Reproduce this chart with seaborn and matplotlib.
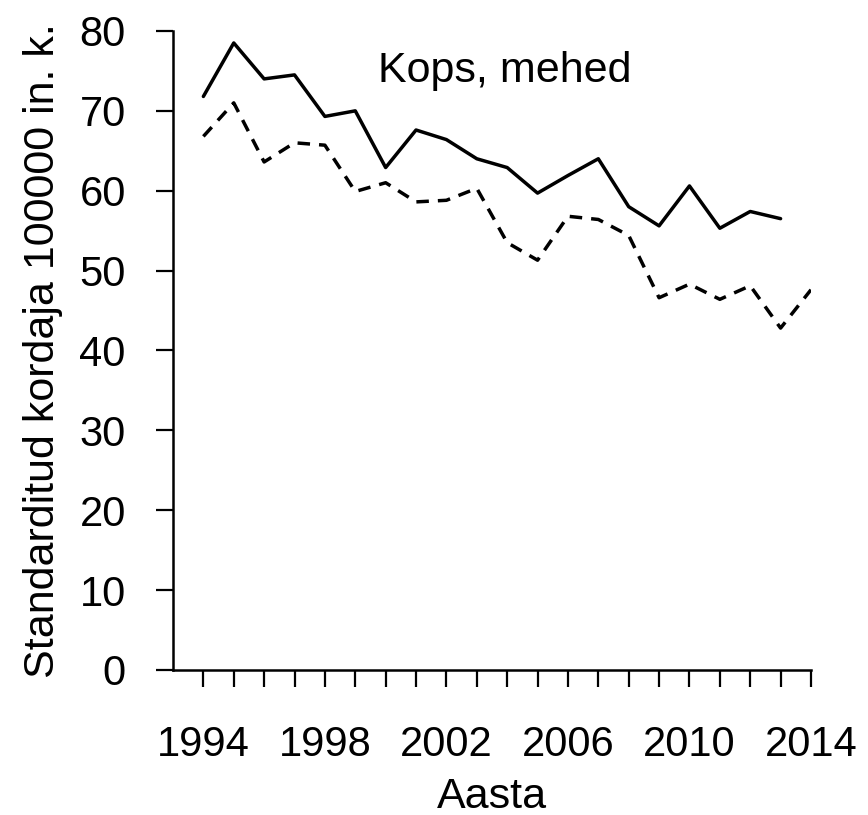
import matplotlib
matplotlib.use("Agg")
import matplotlib.pyplot as plt
import seaborn as sns
import pandas as pd

# Values
years_solid = list(range(1994, 2014))
solid = [71.8, 78.5, 74.0, 74.5, 69.3, 70.0, 62.9, 67.6, 66.4, 64.0,
         62.9, 59.7, 61.9, 64.0, 58.0, 55.6, 60.6, 55.3, 57.4, 56.5]
years_dashed = list(range(1994, 2015))
dashed = [66.8, 71.0, 63.6, 66.0, 65.7, 59.9, 61.0, 58.6, 58.8, 60.3,
          53.5, 51.3, 56.8, 56.4, 54.4, 46.6, 48.3, 46.4, 48.1, 42.8, 47.6]
xtick_years = [1994, 1998, 2002, 2006, 2010, 2014]
yticks = [0, 10, 20, 30, 40, 50, 60, 70, 80]

df_solid = pd.DataFrame({"Aasta": years_solid, "v": solid})
df_dashed = pd.DataFrame({"Aasta": years_dashed, "v": dashed})

sns.set_style("ticks")
plt.rcParams["font.family"] = ["Liberation Sans", "DejaVu Sans"]
plt.rcParams["text.color"] = "black"
plt.rcParams["axes.labelcolor"] = "black"
plt.rcParams["xtick.color"] = "black"
plt.rcParams["ytick.color"] = "black"

fig = plt.figure(figsize=(8.68, 8.15), dpi=100)
ax = fig.add_axes([0.1993, 0.178, 0.735, 0.784])

sns.lineplot(data=df_solid, x="Aasta", y="v", color="black", linewidth=2.5, ax=ax)
sns.lineplot(data=df_dashed, x="Aasta", y="v", color="black", linewidth=2.5, ax=ax)
ax.lines[1].set_dashes([3.6, 2.6])

ax.set_xlim(1993, 2014)
ax.set_ylim(0, 80)
ax.set_xticks(range(1994, 2015))
ax.set_xticklabels([str(y) if y in xtick_years else "" for y in range(1994, 2015)])
ax.set_yticks(yticks)
ax.tick_params(axis="both", direction="out", length=12, width=1.6, labelsize=30,
               color="black", labelcolor="black")
ax.tick_params(axis="x", pad=28)
ax.tick_params(axis="y", pad=22)

for s in ["top", "right"]:
    ax.spines[s].set_visible(False)
for s in ["left", "bottom"]:
    ax.spines[s].set_linewidth(1.8)
    ax.spines[s].set_color("black")

ax.set_xlabel("Aasta", fontsize=31, labelpad=8, color="black")
ax.set_ylabel("Standarditud kordaja 100000 in. k.", fontsize=31, labelpad=12, color="black")
ax.text(1999.75, 75, "Kops, mehed", fontsize=31, va="center", ha="left", color="black")

fig.savefig("out.png", dpi=100)
